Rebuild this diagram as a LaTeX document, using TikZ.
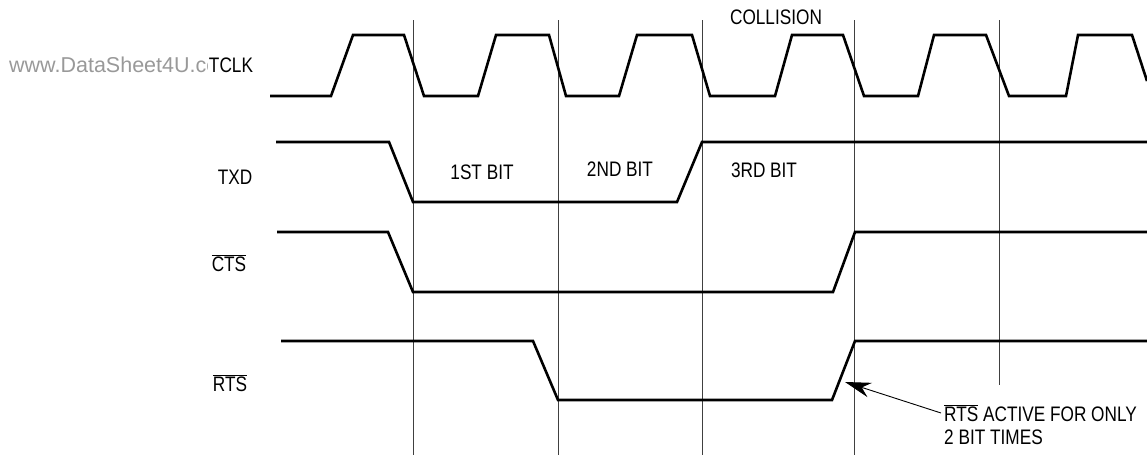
\documentclass[tikz,border=0pt]{standalone}
\usepackage{fontspec}
\setmainfont{Liberation Sans}[FakeStretch=0.82]
\newfontfamily\wmfont{Liberation Sans}
\usetikzlibrary{arrows.meta}
\newcommand\ovl[1]{\ensuremath{\overline{\mbox{#1}}}}
\begin{document}
\begin{tikzpicture}[x=1pt,y=-1pt,
  sig/.style={line width=2.6pt,line join=miter},
  grid/.style={line width=0.9pt,black!75},
  lbl/.style={inner sep=0pt,font=\fontsize{21}{23}\selectfont},
  wm/.style={inner sep=0pt,text=black!40,font=\wmfont\fontsize{21.5}{23}\selectfont}]
\useasboundingbox (0,0) rectangle (1147,455);
% watermark
\node[wm,anchor=west] (wmark) at (9,65) {www.DataSheet4U.com};
% grid lines
\foreach \x/\n in {413/a,558/b,702/c,854/d}
  \draw[grid] (\x,20) coordinate (g\n top) -- (\x,455) coordinate (g\n bot);
\draw[grid] (999,20) coordinate (getop) -- (999,385) coordinate (gebot);
% TCLK
\draw[sig] (270,96) -- (331,96) -- (353,35) -- (404,35) -- (424,96) -- (478,96) -- (496,35) -- (549,35)
  -- (566,96) -- (619,96) -- (637,35) -- (692,35) -- (710,96) -- (775,96) -- (792,35) -- (843,35)
  -- (864,96) -- (918,96) -- (934,35) -- (986,35) -- (1009,96) -- (1066,96) -- (1078,35) -- (1132,35) -- (1147,81);
% TXD
\draw[sig] (276,142) -- (389,142) -- (413,202) -- (677,202) -- (702,142) -- (1147,142);
% CTS
\draw[sig] (277,232) -- (388,232) -- (413,292) -- (833,292) -- (855,232) -- (1147,232);
% RTS
\draw[sig] (281,341) -- (533,341) -- (558,400) -- (832,400) -- (855,341) -- (1147,341);
% labels
\node[lbl,fill=white,inner sep=0.5pt] (tclk) at (231,65) {TCLK};
\node[lbl] (txd) at (235,177) {TXD};
\node[lbl] (cts) at (229,263) {\ovl{CTS}};
\node[lbl] (rts) at (230,383) {\ovl{RTS}};
\node[lbl] (b1) at (482,172) {1ST BIT};
\node[lbl] (b2) at (620,169) {2ND BIT};
\node[lbl] (b3) at (764,170) {3RD BIT};
\node[lbl] (coll) at (776,17) {COLLISION};
% annotation
\node[lbl,anchor=west,inner sep=3pt] (note1) at (941,413) {\ovl{RTS} ACTIVE FOR ONLY};
\node[lbl,anchor=west,inner sep=3pt] (note2) at (941,437) {2 BIT TIMES};
\coordinate (tip) at (845,382);
\draw[line width=0.9pt,-{Stealth[length=26pt,width=15pt]}] (note1.west) -- (tip);
\end{tikzpicture}
\end{document}
